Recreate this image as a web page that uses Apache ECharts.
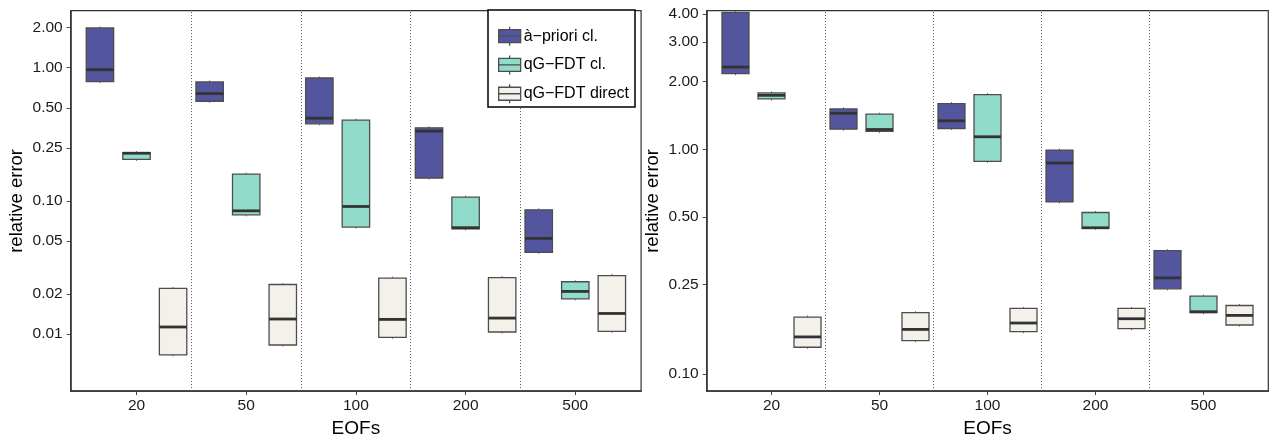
<!DOCTYPE html>
<html>
<head>
<meta charset="utf-8">
<script src="https://cdn.jsdelivr.net/npm/echarts@6/dist/echarts.min.js"></script>
<style>
  html, body { margin: 0; padding: 0; background: #fff; }
  #chart { width: 1275px; height: 443px; }
</style>
</head>
<body>
<div id="chart"></div>
<script>
// Number of EOFs on the x axis
const EOFS = ['20', '50', '100', '200', '500'];

// Series names
const SERIES_NAMES = ['à−priori cl.', 'qG−FDT cl.', 'qG−FDT direct'];

// Left panel: [lower hinge, median, upper hinge] per EOF count
const leftApriori = [[0.786, 0.966, 1.99], [0.560, 0.639, 0.782], [0.379, 0.418, 0.837], [0.1486, 0.334, 0.354], [0.0411, 0.0523, 0.0857]];
const leftClassic = [[0.205, 0.228, 0.230], [0.0786, 0.0842, 0.159], [0.0636, 0.0908, 0.404], [0.0617, 0.0629, 0.1066], [0.0184, 0.0209, 0.0247]];
const leftDirect  = [[0.00698, 0.0113, 0.0220], [0.00828, 0.01297, 0.02355], [0.00945, 0.01288, 0.0263], [0.01036, 0.01318, 0.02655], [0.01048, 0.01428, 0.0275]];

// Right panel: [lower hinge, median, upper hinge] per EOF count
const rightApriori = [[2.171, 2.325, 4.07], [1.230, 1.448, 1.514], [1.239, 1.340, 1.599], [0.584, 0.870, 0.993], [0.2397, 0.2682, 0.3543]];
const rightClassic = [[1.677, 1.740, 1.783], [1.202, 1.226, 1.434], [0.885, 1.138, 1.753], [0.446, 0.448, 0.524], [0.1877, 0.1896, 0.2224]];
const rightDirect  = [[0.1318, 0.1465, 0.1796], [0.1410, 0.1582, 0.1877], [0.1546, 0.1689, 0.1961], [0.1594, 0.1765, 0.1961], [0.1655, 0.1826, 0.2021]];

// Tick labels of the two log axes
const leftTicks = [0.01, 0.02, 0.05, 0.10, 0.25, 0.50, 1.00, 2.00];
const rightTicks = [0.10, 0.25, 0.50, 1.00, 2.00, 3.00, 4.00];

const FILLS = ['#53569f', '#91dbcb', '#f3f1e9'];
const OFFSETS = [-1 / 3, 0, 1 / 3];
const BOX_W = 0.25;
const FONT = '"Liberation Sans", Arial, Helvetica, sans-serif';
// Legend key: box outline, median bar and whisker stubs
const KEY_ICON = 'path://M0,3 H22 V16 H0 Z M0,9.5 H22 M11,0 V3 M11,16 V19';

function renderBox(params, api) {
  const x = api.value(0);
  const lo = api.value(1), med = api.value(2), hi = api.value(3);
  const l = api.coord([x - BOX_W / 2, lo])[0];
  const r = api.coord([x + BOX_W / 2, lo])[0];
  const yLo = api.coord([x, lo])[1];
  const yHi = api.coord([x, hi])[1];
  const yMed = api.coord([x, med])[1];
  const cx = (l + r) / 2;
  return {
    type: 'group',
    children: [
      { type: 'line', shape: { x1: cx, y1: yHi - 1.5, x2: cx, y2: yHi }, style: { stroke: '#666', lineWidth: 1 } },
      { type: 'line', shape: { x1: cx, y1: yLo, x2: cx, y2: yLo + 1.5 }, style: { stroke: '#666', lineWidth: 1 } },
      { type: 'rect', shape: { x: l, y: yHi, width: r - l, height: yLo - yHi },
        style: { fill: api.visual('color'), stroke: '#4d4d4d', lineWidth: 1.3 } },
      { type: 'line', shape: { x1: l, y1: yMed, x2: r, y2: yMed }, style: { stroke: '#333', lineWidth: 2.8 } }
    ]
  };
}

function boxSeries(name, idx, rows, axisIdx) {
  return {
    type: 'custom',
    name: name,
    xAxisIndex: axisIdx,
    yAxisIndex: axisIdx,
    itemStyle: { color: FILLS[idx], borderColor: '#4d4d4d', borderWidth: 1 },
    renderItem: renderBox,
    encode: { x: 0, y: [1, 2, 3] },
    data: rows.map((r, i) => [i + 1 + OFFSETS[idx], r[0], r[1], r[2]]),
    z: 3
  };
}

function separators(axisIdx) {
  return {
    type: 'scatter',
    xAxisIndex: axisIdx,
    yAxisIndex: axisIdx,
    data: [],
    silent: true,
    markLine: {
      silent: true,
      symbol: ['none', 'none'],
      label: { show: false },
      lineStyle: { type: [1, 2], color: '#555', width: 1 },
      data: [1.5, 2.5, 3.5, 4.5].map(v => ({ xAxis: v }))
    }
  };
}

function xAxis(gridIdx) {
  const ticks = EOFS.map((_, i) => i + 1);
  return {
    type: 'value',
    gridIndex: gridIdx,
    min: 0.4,
    max: 5.6,
    name: 'EOFs',
    nameLocation: 'middle',
    nameGap: 26,
    nameTextStyle: { fontFamily: FONT, fontSize: 19, color: '#000' },
    axisLine: { show: true, lineStyle: { color: '#333', width: 1.5 } },
    axisTick: { show: true, customValues: ticks, length: 4, lineStyle: { color: '#444', width: 1 } },
    axisLabel: { customValues: ticks, formatter: v => EOFS[Math.round(v) - 1], margin: 7,
      fontFamily: FONT, fontSize: 15.5, color: '#1a1a1a' },
    splitLine: { show: false }
  };
}

function yAxis(gridIdx, ticks, min, max) {
  return {
    type: 'log',
    gridIndex: gridIdx,
    min: min,
    max: max,
    name: 'relative error',
    nameLocation: 'middle',
    nameGap: 44,
    nameTextStyle: { fontFamily: FONT, fontSize: 18.5, color: '#000' },
    axisLine: { show: true, lineStyle: { color: '#333', width: 1.5 } },
    axisTick: { show: true, customValues: ticks, length: 4, lineStyle: { color: '#444', width: 1 } },
    axisLabel: { customValues: ticks, formatter: v => Number(v).toFixed(2), margin: 8,
      fontFamily: FONT, fontSize: 15.5, color: '#1a1a1a' },
    splitLine: { show: false }
  };
}

const chart = echarts.init(document.getElementById('chart'), null, { renderer: 'canvas' });
chart.setOption({
  animation: false,
  backgroundColor: '#fff',
  grid: [
    { left: 70.7, top: 10.7, width: 570.4, height: 382, show: true, borderColor: '#333', borderWidth: 1.2, containLabel: false },
    { left: 706.7, top: 10.7, width: 561.6, height: 382, show: true, borderColor: '#333', borderWidth: 1.2, containLabel: false }
  ],
  xAxis: [xAxis(0), xAxis(1)],
  yAxis: [yAxis(0, leftTicks, 0.00373, 2.68), yAxis(1, rightTicks, 0.0841, 4.14)],
  legend: {
    data: SERIES_NAMES,
    orient: 'vertical',
    left: 488,
    top: 10,
    icon: KEY_ICON,
    itemWidth: 22,
    itemHeight: 19,
    itemGap: 8.5,
    padding: [16, 6, 3, 10],
    backgroundColor: '#fff',
    borderColor: '#000',
    borderWidth: 1.5,
    borderRadius: 0,
    itemStyle: { borderColor: '#4d4d4d', borderWidth: 1.3 },
    textStyle: { fontFamily: FONT, fontSize: 16, color: '#000', padding: [0, 0, 0, -2] },
    z: 10
  },
  series: [
    separators(0),
    separators(1),
    boxSeries(SERIES_NAMES[0], 0, leftApriori, 0),
    boxSeries(SERIES_NAMES[1], 1, leftClassic, 0),
    boxSeries(SERIES_NAMES[2], 2, leftDirect, 0),
    boxSeries(SERIES_NAMES[0], 0, rightApriori, 1),
    boxSeries(SERIES_NAMES[1], 1, rightClassic, 1),
    boxSeries(SERIES_NAMES[2], 2, rightDirect, 1)
  ]
});
</script>
</body>
</html>
